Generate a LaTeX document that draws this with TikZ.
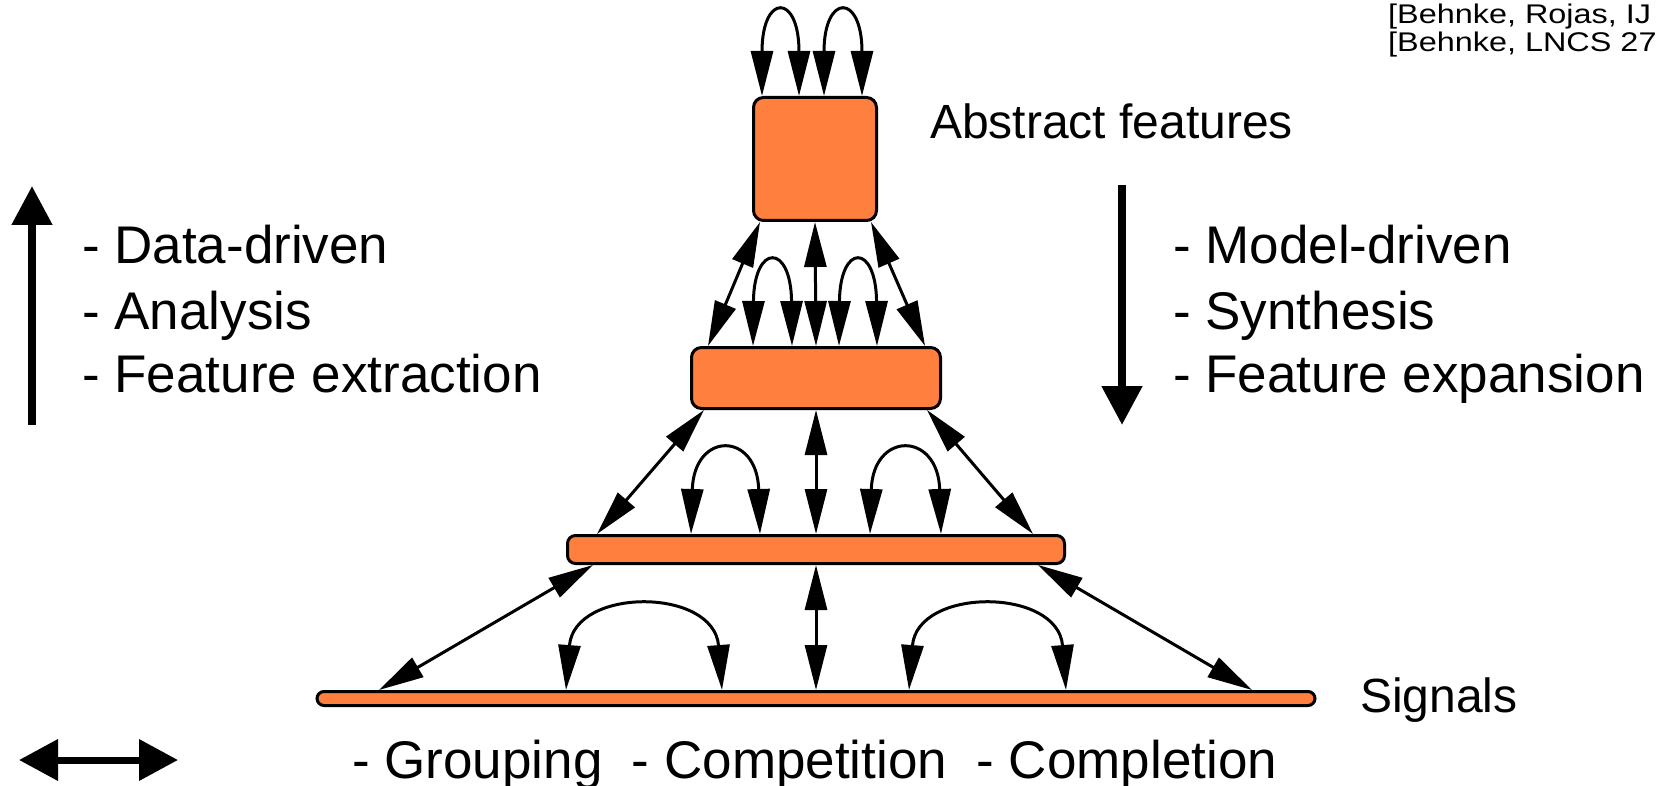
\documentclass[tikz,border=0pt]{standalone}
\usepackage{fontspec}
\setmainfont{Liberation Sans}
\newfontfamily\citefont[FakeStretch=1.2]{Liberation Sans}
\usepackage{tikz}
\usetikzlibrary{arrows.meta, positioning}
\definecolor{layerorange}{RGB}{255,127,62}
\tikzset{
    layer/.style={rectangle, draw=black, fill=layerorange, line width=3pt, rounded corners=10pt, inner sep=0pt},
    link/.style={{Triangle[length=45pt,width=22pt]}-{Triangle[length=45pt,width=22pt]}, line width=3pt},
    flow/.style={-{Triangle[length=39pt,width=39pt]}, line width=8pt},
    listtext/.style={font=\fontsize{53pt}{64pt}\selectfont, inner sep=0pt, anchor=base west},
    labeltext/.style={font=\fontsize{48pt}{58pt}\selectfont, inner sep=0pt, anchor=base west},
    citetext/.style={font=\citefont\fontsize{27pt}{30pt}\selectfont, inner sep=0pt, anchor=base west}
}

\begin{document}
\begin{tikzpicture}[x=1pt, y=-1pt]
        \useasboundingbox (0,0) rectangle (1657,786);

        % --- Layers of the hierarchy ---
        \node (Abstract) [layer, minimum width=123pt, minimum height=123pt] at (815,159) {};
        \node (Mid) [layer, minimum width=249pt, minimum height=61pt] at (816,378) {};
        \node (Low) [layer, minimum width=497pt, minimum height=28pt, rounded corners=8pt] at (816,549.5) {};
        \node (Signal) [layer, minimum width=998pt, minimum height=14pt, rounded corners=7pt] at (816,698.5) {};

        % --- Labels of the layers ---
        \node (absText) [labeltext] at (930,139) {Abstract features};
        \node (sigText) [labeltext] at (1360,712) {Signals};

        % --- Loops above the top layer ---
        \draw [link] ([xshift=-53pt]Abstract.north) .. controls +(0,-103) and +(0,-103) .. ([xshift=-16pt]Abstract.north);
        \draw [link] ([xshift=9pt]Abstract.north) .. controls +(0,-103) and +(0,-103) .. ([xshift=47pt]Abstract.north);

        % --- Abstract <-> Mid ---
        \draw [link] ([xshift=-55pt]Abstract.south) -- ([xshift=-108pt]Mid.north);
        \draw [link] (Abstract.south) -- (Mid.north);
        \draw [link] ([xshift=56pt]Abstract.south) -- ([xshift=109pt]Mid.north);
        \draw [link] ([xshift=-63pt]Mid.north) .. controls +(1,-103) and +(-1,-103) .. ([xshift=-24pt]Mid.north);
        \draw [link] ([xshift=23pt]Mid.north) .. controls +(1,-103) and +(-1,-103) .. ([xshift=61pt]Mid.north);

        % --- Mid <-> Low ---
        \draw [link] ([xshift=-112pt]Mid.south) -- ([xshift=-219pt]Low.north);
        \draw [link] (Mid.south) -- (Low.north);
        \draw [link] ([xshift=111pt]Mid.south) -- ([xshift=217pt]Low.north);
        \draw [link] ([xshift=-125pt]Low.north) .. controls +(3,-103) and +(-3,-103) .. ([xshift=-56pt]Low.north);
        \draw [link] ([xshift=54pt]Low.north) .. controls +(3,-103) and +(-3,-103) .. ([xshift=125pt]Low.north);

        % --- Low <-> Signal ---
        \draw [link] ([xshift=-223pt]Low.south) -- ([xshift=-437pt]Signal.north);
        \draw [link] (Low.south) -- (Signal.north);
        \draw [link] ([xshift=222pt]Low.south) -- ([xshift=436pt]Signal.north);
        \draw [link] ([xshift=-250pt]Signal.north) .. controls +(8,-103) and +(-8,-103) .. ([xshift=-94pt]Signal.north);
        \draw [link] ([xshift=93pt]Signal.north) .. controls +(8,-103) and +(-8,-103) .. ([xshift=250pt]Signal.north);

        % --- Direction of processing ---
        \coordinate (upFrom) at (32,425);
        \coordinate (upTo) at (32,186);
        \draw [flow] (upFrom) -- (upTo);
        \node (dataDriven) [listtext] at (82,264) {- Data-driven};
        \node (analysis) [listtext] at (82,329) {- Analysis};
        \node (extraction) [listtext] at (82,392) {- Feature extraction};

        \coordinate (downFrom) at (1122,185);
        \coordinate (downTo) at (1122,425);
        \draw [flow] (downFrom) -- (downTo);
        \node (modelDriven) [listtext] at (1173,264) {- Model-driven};
        \node (synthesis) [listtext] at (1173,329) {- Synthesis};
        \node (expansion) [listtext] at (1173,392) {- Feature expansion};

        % --- Lateral interaction ---
        \coordinate (latLeft) at (19,760);
        \coordinate (latRight) at (178,760);
        \draw [{Triangle[length=39pt,width=40pt]}-{Triangle[length=39pt,width=40pt]}, line width=7pt] (latLeft) -- (latRight);
        \node (lateral) [listtext] at (352,778) {- Grouping\ \ - Competition\ \ - Completion};

        % --- References ---
        \node (cite1) [citetext] at (1388,24) {[Behnke, Rojas, IJ};
        \node (cite2) [citetext] at (1388,52) {[Behnke, LNCS 27};
\end{tikzpicture}
\end{document}
